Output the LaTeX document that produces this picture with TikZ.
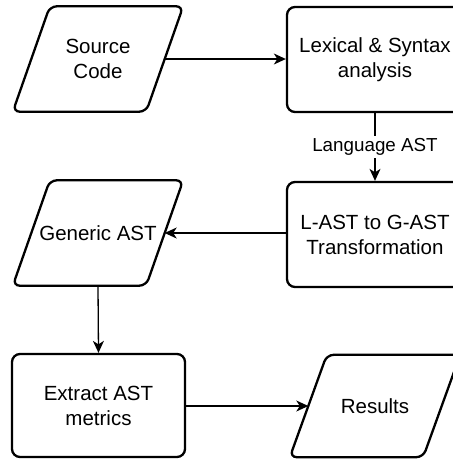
\documentclass[tikz,border=0pt]{standalone}
\usepackage{fontspec}
\setmainfont{Liberation Sans}
\usetikzlibrary{arrows.meta}
\begin{document}
\begin{tikzpicture}[x=1pt,y=-1pt,
  txt/.style={font=\fontsize{20.5}{25}\selectfont,align=center,inner sep=0pt},
  boxstyle/.style={txt,draw,line width=2.3pt,rounded corners=8pt,minimum width=176pt,minimum height=105pt},
  paratext/.style={txt,minimum width=170pt,minimum height=105pt},
  shapeline/.style={line width=2.3pt,rounded corners=7pt},
  conn/.style={line width=1.3pt,-{Stealth[length=12pt,width=11pt,inset=3.5pt]}},
  lbl/.style={fill=white,inner sep=2pt,font=\fontsize{18.8}{22}\selectfont}]
\useasboundingbox (0,0) rectangle (453,459);
\clip (0,0) rectangle (453,459);
\node[paratext] (src) at (98,59) {Source\\Code};
\node[boxstyle] (lex) at (375,59.5) {Lexical \& Syntax\\analysis};
\node[boxstyle] (trans) at (375,234.5) {L-AST to G-AST\\Transformation};
\node[paratext] (gen) at (98,233) {Generic AST};
\node[boxstyle,minimum width=173pt,minimum height=103pt] (ext) at (98.5,405.5) {Extract AST\\metrics};
\node[paratext,minimum height=102pt] (res) at (375,406) {Results};
\foreach \n in {src,gen,res}{
  \draw[shapeline] ([xshift=37pt]\n.north west) -- (\n.north east) -- ([xshift=-37pt]\n.south east) -- (\n.south west) -- cycle;
  \coordinate (\n R) at ([xshift=-18.5pt]\n.east);
  \coordinate (\n L) at ([xshift=18.5pt]\n.west);
}
\draw[conn] (srcR) -- (lex.west |- srcR);
\draw[conn] (lex.south) -- node[lbl] (la) {Language AST} (trans.north);
\draw[conn] (trans.west |- genR) -- (genR);
\draw[conn] (gen.south) -- (ext.north);
\draw[conn] (ext.east |- resL) -- (resL);
\end{tikzpicture}
\end{document}
